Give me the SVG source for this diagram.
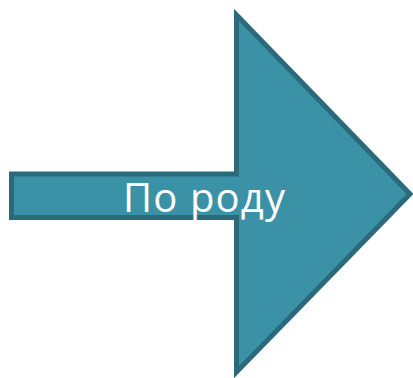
<svg xmlns="http://www.w3.org/2000/svg" width="413" height="378" viewBox="0 0 413 378">
<style>
.arrow{fill:#3b91a6;stroke:#2b6a7b;stroke-width:5;stroke-linejoin:miter;stroke-miterlimit:10}
.lbl{font-family:"Open Sans","Liberation Sans",sans-serif;font-size:40px;fill:#ffffff}
</style>
<rect width="413" height="378" fill="#ffffff"/>
<g id="arrow">
<path class="arrow" d="M11.5,174 L236.5,174 L236.5,15 L410,194 L236.5,372 L236.5,217.5 L11.5,217.5 Z"/>
<text class="lbl" x="123" y="212" textLength="162" lengthAdjust="spacing">По роду</text>
</g>
</svg>
